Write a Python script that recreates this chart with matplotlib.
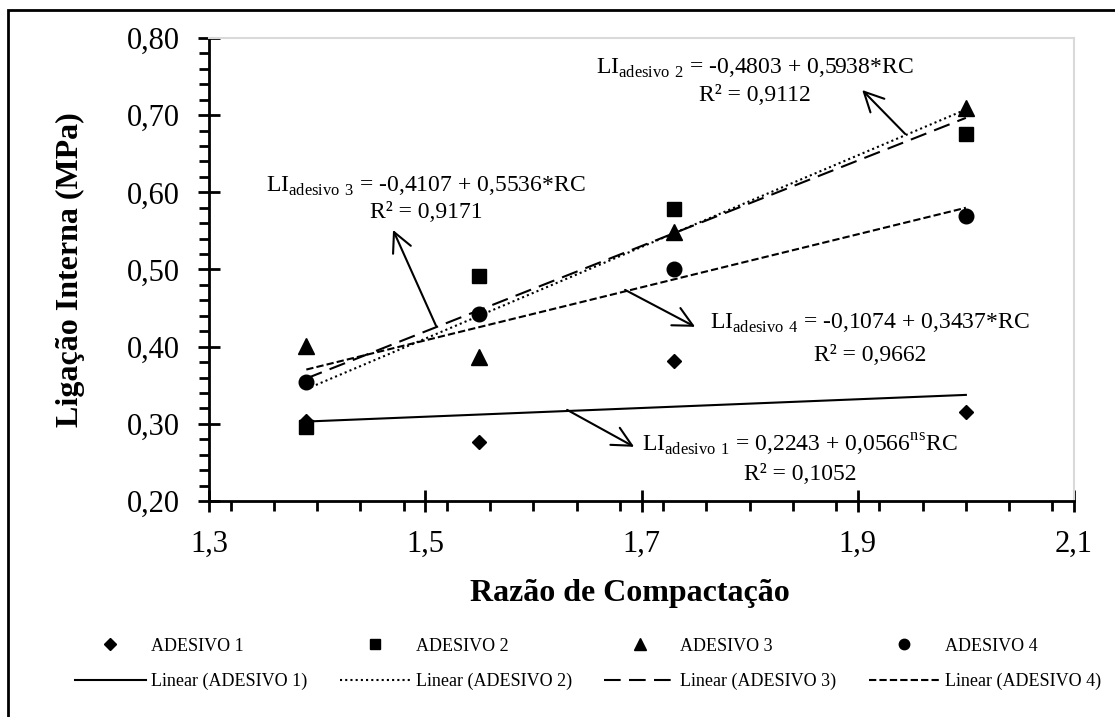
import numpy as np
import matplotlib
matplotlib.use('Agg')
import matplotlib.pyplot as plt
from matplotlib import patches
from matplotlib.lines import Line2D
from matplotlib.ticker import MultipleLocator, FixedLocator, FixedFormatter

plt.rcParams['font.family'] = ['Liberation Serif', 'DejaVu Serif']
plt.rcParams['mathtext.fontset'] = 'custom'
plt.rcParams['mathtext.rm'] = 'Liberation Serif'

# Razao de compactacao (RC)
rc = [1.39, 1.55, 1.73, 2.00]

# Ligacao interna (MPa) por adesivo
adesivo_1 = [0.304, 0.276, 0.382, 0.315]
adesivo_2 = [0.296, 0.491, 0.578, 0.676]
adesivo_3 = [0.401, 0.387, 0.548, 0.709]
adesivo_4 = [0.354, 0.442, 0.500, 0.569]

nomes = ['ADESIVO 1', 'ADESIVO 2', 'ADESIVO 3', 'ADESIVO 4']

# regressoes lineares
interceptos = [0.2243, -0.4803, -0.4107, -0.1074]
inclinacoes = [0.0566, 0.5938, 0.5536, 0.3437]
equacoes = [
    r'LI$_{\mathregular{adesivo\ 1}}$ = 0,2243 + 0,0566$^{\mathregular{ns}}$RC',
    r'LI$_{\mathregular{adesivo\ 2}}$ = -0,4803 + 0,5938*RC',
    r'LI$_{\mathregular{adesivo\ 3}}$ = -0,4107 + 0,5536*RC',
    r'LI$_{\mathregular{adesivo\ 4}}$ = -0,1074 + 0,3437*RC',
]
r2 = ['R² = 0,1052', 'R² = 0,9112', 'R² = 0,9171', 'R² = 0,9662']

x_ticks = [1.3, 1.5, 1.7, 1.9, 2.1]
x_tick_labels = ['1,3', '1,5', '1,7', '1,9', '2,1']
y_ticks = [0.2, 0.3, 0.4, 0.5, 0.6, 0.7, 0.8]
y_tick_labels = ['0,20', '0,30', '0,40', '0,50', '0,60', '0,70', '0,80']

series = [adesivo_1, adesivo_2, adesivo_3, adesivo_4]
marcadores = ['D', 's', '^', 'o']
tam_marcador = [7.5, 10, 11, 10.5]
estilos = ['-', (0, (1, 1.5)), (0, (8, 4)), (0, (3.5, 1.5))]

fig = plt.figure(figsize=(11.15, 7.17), dpi=100)
ax = fig.add_axes([209 / 1115, 1 - 501 / 717, 865 / 1115, 463 / 717])

# linhas de tendencia e pontos
x_fit = np.array([min(rc), max(rc)])
for i in range(4):
    ax.plot(x_fit, interceptos[i] + inclinacoes[i] * x_fit, color='black',
            lw=1.5, linestyle=estilos[i], zorder=2)
for i in range(4):
    ax.plot(rc, series[i], linestyle='none', marker=marcadores[i],
            ms=tam_marcador[i], color='black', zorder=3)

ax.set_xlim(1.3, 2.1)
ax.set_ylim(0.2, 0.8)
ax.xaxis.set_major_locator(FixedLocator(x_ticks))
ax.xaxis.set_major_formatter(FixedFormatter(x_tick_labels))
ax.yaxis.set_major_locator(FixedLocator(y_ticks))
ax.yaxis.set_major_formatter(FixedFormatter(y_tick_labels))
ax.xaxis.set_minor_locator(MultipleLocator(0.04))
ax.yaxis.set_minor_locator(MultipleLocator(0.02))
ax.tick_params(which='major', direction='inout', length=16, width=2,
               labelsize=22, pad=13)
ax.tick_params(which='minor', direction='out', length=7, width=2)

for s in ['left', 'bottom']:
    ax.spines[s].set_linewidth(2)
for s in ['top', 'right']:
    ax.spines[s].set_color('#d9d9d9')
    ax.spines[s].set_linewidth(1.5)

# equacoes e setas
pos_texto = [(1.8467, 0.2644, 0.2275), (1.805, 0.754, 0.7184),
             (1.5007, 0.6012, 0.5668), (1.9115, 0.4237, 0.3816)]
setas = [((1.6312, 0.3181), (1.6932, 0.2702)),
         ((1.9439, 0.6756), (1.9041, 0.7326)),
         ((1.51, 0.4269), (1.4702, 0.5513)),
         ((1.6848, 0.4736), (1.7496, 0.4257))]
for i in range(4):
    xc, y1, y2 = pos_texto[i]
    ax.text(xc, y1, equacoes[i], fontsize=17, ha='center', va='baseline')
    ax.text(xc, y2, r2[i], fontsize=17, ha='center', va='baseline')
    cauda, ponta = setas[i]
    ax.annotate('', xy=ponta, xytext=cauda,
                arrowprops=dict(arrowstyle='->, head_length=0.7, head_width=0.35',
                                lw=1.5, color='black', mutation_scale=20,
                                shrinkA=0, shrinkB=0))

fig.text(70 / 1115, 1 - 270 / 717, 'Ligação Interna (MPa)', rotation=90,
         fontsize=23, fontweight='bold', ha='center', va='center')
fig.text(630 / 1115, 1 - 593 / 717, 'Razão de Compactação', fontsize=23,
         fontweight='bold', ha='center', va='center')

# legenda
tam_leg = [6, 7.5, 8, 7.5]
handles, labels = [], []
for i in range(4):
    handles.append(Line2D([], [], linestyle='none', marker=marcadores[i],
                          ms=tam_leg[i], color='black'))
    labels.append(nomes[i])
    handles.append(Line2D([], [], linestyle=estilos[i], lw=1.5, color='black'))
    labels.append('Linear (' + nomes[i] + ')')
fig.legend(handles, labels, ncol=4, loc='center',
           bbox_to_anchor=(588 / 1115, 1 - 664 / 717), frameon=False,
           fontsize=13, handlelength=3.9, handletextpad=0.3,
           columnspacing=1.8, labelspacing=1.0)

# moldura externa
fig.add_artist(patches.Rectangle((8 / 1115, -0.05), 1.2, 1 - 10 / 717 + 0.05,
                                 transform=fig.transFigure, fill=False,
                                 lw=2, edgecolor='black', clip_on=False))

plt.savefig('out.png', dpi=100)
